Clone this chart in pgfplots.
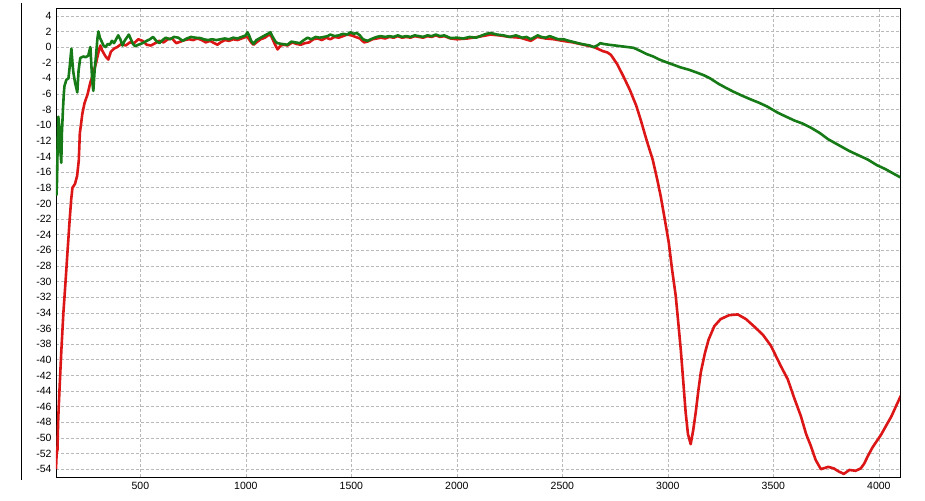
\documentclass[border=0pt]{standalone}
\usepackage{pgfplots}
\pgfplotsset{compat=1.18}
\usepackage{fontspec}
\setmainfont{Liberation Sans}
\definecolor{cred}{RGB}{220,22,22}
\definecolor{cgreen}{RGB}{22,122,22}
\definecolor{cgrid}{RGB}{185,185,185}
\begin{document}
\begin{tikzpicture}
\path[use as bounding box] (-56pt,-23pt) rectangle (869pt,477pt);
\begin{axis}[
  scale only axis, width=844pt, height=469pt,
  xmin=100, xmax=4100, ymin=-55, ymax=5,
  xtick={500,1000,...,4000},
  ytick={-54,-52,...,4},
  grid=major,
  major grid style={cgrid, line width=0.6pt, dash pattern=on 3pt off 2pt},
  major tick length=0pt,
  axis line style={black, line width=0.9pt},
  tick label style={font=\fontsize{10.5}{12}\selectfont},
  /pgf/number format/assume math mode=true,
  /pgf/number format/1000 sep={},
  yticklabel style={xshift=-1pt},
  xticklabel style={yshift=-2pt},
  clip=true,
]
\addplot[cred, line width=2.6pt, line join=round] coordinates {
(100,-54) (103,-52) (107,-51.5) (110,-48) (113,-46) (118,-43) (125,-39) (135,-34)
(144,-30.5) (155,-26) (165,-22) (172,-19.5) (178,-18) (190,-17.5) (200,-16.5)
(208,-14.5) (213,-11) (218,-10) (225,-8.5) (235,-7.2) (250,-6) (263,-4.5)
(272,-3.8) (282,-2.8) (290,-2) (300,-0.8) (310,0.2) (320,-0.5) (335,-1.2)
(348,-1.6) (360,-0.6) (375,-0.2) (390,0) (410,0.4) (430,0.2) (450,0.6) (470,0.5)
(490,1.0) (510,0.8) (530,0.3) (550,0.2) (570,0.5) (590,0.8) (610,0.6) (630,1.0)
(650,1.1) (670,0.5) (690,0.7) (710,0.9) (730,1.0) (750,0.9) (770,1.1) (790,0.9)
(810,0.6) (830,0.8) (850,0.5) (865,0.3) (880,0.6) (900,0.9) (920,0.8) (940,1.0)
(960,0.9) (980,1.1) (1000,1.3) (1010,1.2) (1025,0.6) (1036,0.3) (1050,0.6)
(1070,1.0) (1090,1.2) (1110,1.6) (1120,1.4) (1135,0.5) (1150,-0.3) (1165,0.2)
(1180,0.3) (1197,0.2) (1220,0.6) (1240,0.4) (1260,0.3) (1280,0.5) (1300,0.6)
(1320,1.0) (1340,1.1) (1360,0.9) (1380,1.2) (1400,1.0) (1420,1.3) (1440,1.2)
(1460,1.4) (1480,1.6) (1500,1.5) (1520,1.3) (1540,1.1) (1560,0.6) (1576,0.7)
(1600,1.0) (1620,1.1) (1640,1.2) (1660,1.1) (1680,1.3) (1700,1.2) (1720,1.4)
(1740,1.2) (1760,1.3) (1780,1.2) (1800,1.4) (1820,1.3) (1840,1.2) (1860,1.4)
(1880,1.3) (1900,1.5) (1920,1.3) (1940,1.4) (1970,1.1) (2000,1.0) (2050,1.1)
(2100,1.3) (2160,1.6) (2200,1.5) (2250,1.3) (2300,1.2) (2350,0.8) (2380,1.3)
(2420,1.1) (2460,1.0) (2500,0.8) (2550,0.6) (2600,0.3) (2650,0) (2690,-0.5)
(2714,-0.7) (2730,-1.0) (2760,-2.2) (2790,-3.8) (2820,-5.5) (2850,-7.5)
(2871,-9.3) (2900,-12) (2928,-14.4) (2950,-17) (2966,-19.1) (2985,-22)
(3004,-25) (3020,-28.5) (3037,-31.8) (3050,-35.5) (3061,-38.7) (3072,-42.5)
(3084,-46.7) (3095,-49.5) (3108,-50.8) (3120,-49) (3132,-46.7) (3145,-43.8)
(3156,-41.6) (3175,-39.2) (3193,-37.4) (3220,-35.7) (3250,-34.8) (3290,-34.3)
(3331,-34.2) (3370,-34.8) (3407,-35.7) (3450,-36.8) (3488,-38.2) (3535,-40.8)
(3568,-42.5) (3600,-45) (3630,-47.2) (3655,-49.5) (3677,-51) (3700,-52.8)
(3725,-54) (3760,-53.7) (3786,-53.9) (3810,-54.3) (3834,-54.6) (3860,-54.1)
(3890,-54.2) (3914,-53.9) (3930,-53.3) (3948,-52.3) (3970,-51.2) (3995,-50.2)
(4010,-49.6) (4033,-48.5) (4060,-47.2) (4080,-46) (4104,-44.6)
};
\addplot[cgreen, line width=2.6pt, line join=round] coordinates {
(102,-19) (105,-17) (108,-12) (111,-8.9) (115,-10) (120,-13) (125,-14.8) (128,-11)
(133,-8) (137,-6) (140,-5) (149,-4.2) (159,-4.0) (165,-2.5) (173,-0.2) (178,-2)
(182,-3.2) (190,-4.5) (201,-5.8) (207,-3) (215,-1.4) (230,-1.2) (240,-1.3)
(253,-1.1) (258,-0.5) (263,0) (268,-2.5) (272,-4.5) (277,-5.6) (283,-3) (290,-1)
(296,1) (301,2) (308,1.2) (315,0.8) (325,0.2) (335,0.0) (345,0.4) (355,0.3)
(365,0.8) (375,0.5) (385,1.0) (395,1.5) (405,1.0) (415,0.2) (425,0.8) (435,1.2)
(445,1.6) (455,1.0) (465,0.4) (475,0.1) (490,0.3) (510,0.5) (530,0.8) (545,1.0)
(560,1.3) (575,0.8) (590,0.5) (605,0.9) (620,1.2) (640,1.0) (660,1.3) (680,1.2)
(700,0.8) (720,1.1) (740,1.3) (760,1.2) (785,1.15) (800,1.0) (820,0.9) (840,1.0)
(860,0.9) (880,1.0) (900,1.1) (920,1.0) (940,1.2) (960,1.1) (980,1.3) (1000,1.5)
(1007,1.9) (1015,1.5) (1025,0.8) (1036,0.4) (1050,0.9) (1070,1.2) (1090,1.5)
(1105,1.7) (1116,1.9) (1125,1.4) (1140,0.7) (1150,0.5) (1170,0.4) (1197,0.3)
(1215,0.7) (1235,0.6) (1255,0.5) (1275,0.9) (1292,1.2) (1310,1.0) (1330,1.3)
(1350,1.2) (1370,1.3) (1387,1.4) (1400,1.6) (1420,1.4) (1440,1.5) (1460,1.7)
(1480,1.6) (1496,1.9) (1510,1.7) (1525,1.8) (1540,1.5) (1555,1.0) (1576,0.8)
(1600,1.1) (1620,1.3) (1638,1.4) (1660,1.3) (1680,1.4) (1700,1.3) (1720,1.5)
(1740,1.3) (1760,1.4) (1780,1.3) (1800,1.5) (1820,1.4) (1840,1.3) (1860,1.5)
(1880,1.4) (1900,1.6) (1920,1.4) (1940,1.5) (1970,1.15) (2000,1.2) (2030,1.1)
(2060,1.3) (2090,1.2) (2120,1.5) (2140,1.7) (2160,1.8) (2190,1.6) (2220,1.5)
(2250,1.3) (2280,1.5) (2310,1.2) (2330,1.3) (2350,1.0) (2370,1.3) (2383,1.5)
(2400,1.3) (2420,1.2) (2440,1.4) (2460,1.2) (2480,1.0) (2506,1.0) (2530,0.8)
(2560,0.6) (2590,0.4) (2610,0.3) (2630,0.2) (2648,0.0) (2665,0.2) (2680,0.5)
(2695,0.4) (2720,0.3) (2750,0.2) (2780,0.1) (2810,0.0) (2838,-0.1) (2870,-0.5)
(2900,-0.9) (2930,-1.2) (2960,-1.6) (2999,-2.0) (3030,-2.3) (3060,-2.6)
(3100,-2.9) (3141,-3.3) (3170,-3.6) (3200,-4.0) (3240,-4.7) (3274,-5.2)
(3310,-5.7) (3350,-6.2) (3393,-6.7) (3430,-7.1) (3470,-7.6) (3521,-8.4)
(3560,-8.9) (3600,-9.4) (3640,-9.8) (3677,-10.3) (3720,-11.0) (3760,-11.8)
(3800,-12.4) (3820,-12.7) (3860,-13.3) (3900,-13.8) (3948,-14.4) (3990,-15.1)
(4030,-15.6) (4070,-16.2) (4104,-16.7)
};
\end{axis}
\draw[black, line width=0.9pt] (-35pt,-3pt) -- (-35pt,474pt);
\end{tikzpicture}
\end{document}
